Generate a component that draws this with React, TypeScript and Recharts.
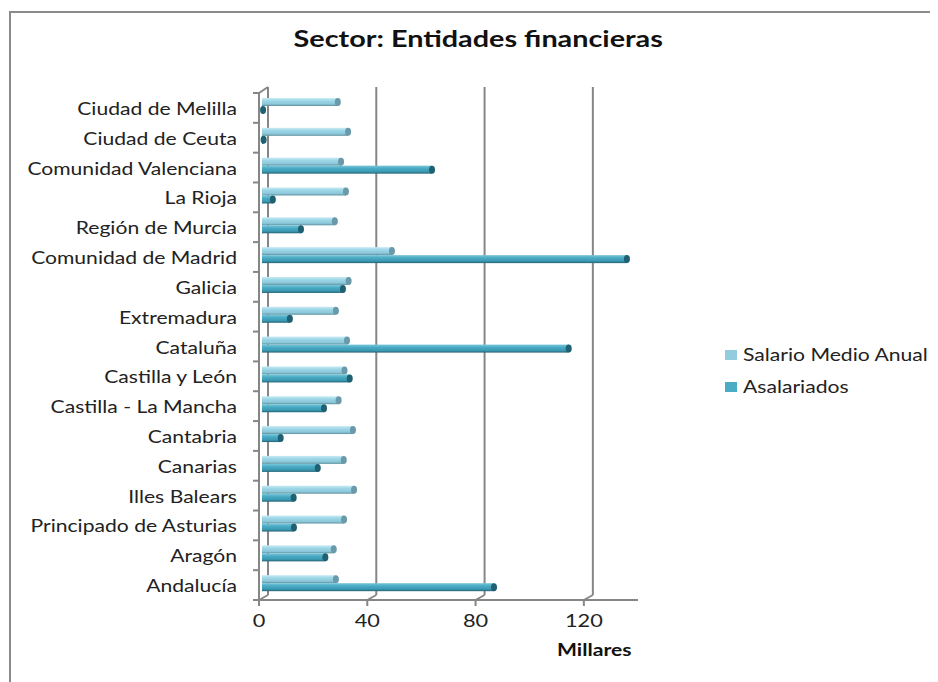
import React from "react";
import { BarChart, Bar, XAxis, YAxis, CartesianGrid, Legend } from "recharts";

const categories = [
  "Ciudad de Melilla",
  "Ciudad de Ceuta",
  "Comunidad Valenciana",
  "La Rioja",
  "Región de Murcia",
  "Comunidad de Madrid",
  "Galicia",
  "Extremadura",
  "Cataluña",
  "Castilla y León",
  "Castilla - La Mancha",
  "Cantabria",
  "Canarias",
  "Illes Balears",
  "Principado de Asturias",
  "Aragón",
  "Andalucía",
];
// thousands
const salarioMedio = [28.0, 31.8, 29.2, 31.0, 26.9, 48.0, 32.0, 27.3, 31.4, 30.5, 28.3, 33.6, 30.2, 34.0, 30.3, 26.5, 27.3];
const asalariados = [0.4, 0.6, 62.8, 4.0, 14.4, 134.8, 29.9, 10.3, 113.3, 32.4, 22.9, 6.9, 20.6, 11.7, 11.8, 23.4, 85.7];
const xTicks = [0, 40, 80, 120];
const legendOrder = ["Salario Medio Anual", "Asalariados"];

const data = categories.map((name, i) => ({ name, salario: salarioMedio[i], asalariados: asalariados[i] }));

const W = 930;
const H = 674;
const MARGIN = { top: 85, right: 300, bottom: 52, left: 11 };
const PLOT_H = H - MARGIN.top - MARGIN.bottom - 30;
const PLOT_RIGHT = W - MARGIN.right;
const BAND = PLOT_H / categories.length;
const FONT = "Lato, 'Open Sans', sans-serif";
const SX = 1.28; // the source picture is stretched sideways
const AXIS = "#868686";
const DEPTH_X = 9;
const DEPTH_Y = 6;

const TONES = {
  light: { grad: "cylLight", cap: "#6a9aaa" },
  dark: { grad: "cylDark", cap: "#1f6072" },
};

function Cylinder(props: any) {
  const { x, y, width, height, tone } = props;
  const t = TONES[tone as "light" | "dark"];
  const x0 = x + 3;
  const y0 = y - 2;
  const w = Math.max(width, 0);
  return (
    <g>
      <rect x={x0} y={y0} width={w} height={height} fill={`url(#${t.grad})`} />
      <ellipse cx={x0 + w} cy={y0 + height / 2} rx={3} ry={height / 2} fill={t.cap} />
    </g>
  );
}

function gridLine(p: any) {
  const { x1, y1, y2, index, key } = p;
  if (x1 > PLOT_RIGHT - 1) return <g key={key ?? index} />;
  const bx = x1 + DEPTH_X;
  return (
    <g key={key ?? index}>
      <line x1={bx} x2={bx} y1={y1 - DEPTH_Y} y2={y2 - DEPTH_Y + 1} stroke={AXIS} strokeWidth={2} />
      <line x1={bx} x2={x1} y1={y2 - DEPTH_Y + 1} y2={y2} stroke={AXIS} strokeWidth={2} />
      {index === 0 && <line x1={x1} x2={bx} y1={y1} y2={y1 - DEPTH_Y} stroke={AXIS} strokeWidth={2} />}
    </g>
  );
}

function CategoryTick(props: any) {
  const { x, y, payload, index } = props;
  const last = index === categories.length - 1;
  return (
    <g>
      <line x1={x - 6} x2={x} y1={y - BAND / 2} y2={y - BAND / 2} stroke={AXIS} strokeWidth={2} />
      {last && <line x1={x - 6} x2={x} y1={y + BAND / 2} y2={y + BAND / 2} stroke={AXIS} strokeWidth={2} />}
      <text
        transform={`translate(${x - 22},${y + 7}) scale(${SX},1)`}
        textAnchor="end"
        fontFamily={FONT}
        fontSize={16.5}
        fill="#222"
      >
        {payload.value}
      </text>
    </g>
  );
}

function ValueTick(props: any) {
  const { x, y, payload } = props;
  return (
    <text
      transform={`translate(${x},${y + 19}) scale(${SX},1)`}
      textAnchor="middle"
      fontFamily={FONT}
      fontSize={17}
      fill="#222"
    >
      {payload.value}
    </text>
  );
}

function LegendBox(props: any) {
  const items = [...(props.payload || [])].sort(
    (a: any, b: any) => legendOrder.indexOf(a.value) - legendOrder.indexOf(b.value)
  );
  return (
    <div style={{ fontFamily: FONT }}>
      {items.map((it: any, i: number) => (
        <div key={i} style={{ display: "flex", alignItems: "center", height: 32 }}>
          <span style={{ width: 12, height: 10, background: it.color, display: "inline-block", marginRight: 6 }} />
          <span
            style={{
              fontSize: 16.5,
              color: "#222",
              display: "inline-block",
              transform: `scaleX(${SX})`,
              transformOrigin: "left center",
              whiteSpace: "nowrap",
            }}
          >
            {it.value}
          </span>
        </div>
      ))}
    </div>
  );
}

export default function App() {
  return (
    <div style={{ position: "relative", width: W, height: H, overflow: "hidden", background: "#fff" }}>
      <svg width={0} height={0} style={{ position: "absolute" }}>
        <defs>
          <linearGradient id="cylLight" x1="0" y1="0" x2="0" y2="1">
            <stop offset="0%" stopColor="#c8ebf5" />
            <stop offset="35%" stopColor="#9dd6e7" />
            <stop offset="75%" stopColor="#8bc8da" />
            <stop offset="100%" stopColor="#5f8f9d" />
          </linearGradient>
          <linearGradient id="cylDark" x1="0" y1="0" x2="0" y2="1">
            <stop offset="0%" stopColor="#78c7da" />
            <stop offset="35%" stopColor="#4aabc4" />
            <stop offset="75%" stopColor="#3b98b1" />
            <stop offset="100%" stopColor="#226174" />
          </linearGradient>
        </defs>
      </svg>
      <div
        style={{
          position: "absolute",
          left: 1,
          top: 3,
          width: 2000,
          height: 2000,
          borderLeft: `2px solid #8a8a8a`,
          borderTop: `2px solid #8a8a8a`,
        }}
      />
      <div
        style={{
          position: "absolute",
          left: 0,
          width: 940,
          top: 17,
          textAlign: "center",
          fontFamily: FONT,
          fontWeight: 700,
          fontSize: 22.5,
          lineHeight: "28px",
          color: "#111",
        }}
      >
        <span style={{ display: "inline-block", transform: `scaleX(${SX})` }}>Sector: Entidades financieras</span>
      </div>
      <div
        style={{
          position: "absolute",
          left: 549,
          top: 632,
          fontFamily: FONT,
          fontWeight: 700,
          fontSize: 16.5,
          color: "#111",
          transform: `scaleX(${SX})`,
          transformOrigin: "left center",
        }}
      >
        Millares
      </div>
      <div style={{ position: "absolute", left: 0, top: 0 }}>
        <BarChart width={W} height={H} data={data} layout="vertical" margin={MARGIN} barSize={8} barGap={0}>
          <CartesianGrid horizontal={false} vertical={gridLine} />
          <XAxis
            type="number"
            domain={[0, 140]}
            ticks={xTicks}
            height={30}
            axisLine={{ stroke: AXIS, strokeWidth: 2 }}
            tickLine={{ stroke: AXIS, strokeWidth: 2 }}
            tickSize={6}
            tickMargin={2}
            tick={<ValueTick />}
          />
          <YAxis
            type="category"
            dataKey="name"
            width={240}
            axisLine={{ stroke: AXIS, strokeWidth: 2 }}
            tickLine={false}
            tickSize={0}
            tickMargin={0}
            interval={0}
            tick={<CategoryTick />}
          />
          <Legend
            layout="horizontal"
            align="center"
            verticalAlign="middle"
            content={<LegendBox />}
            wrapperStyle={{ left: 717, top: 331, width: 220 }}
          />
          <Bar
            dataKey="salario"
            name="Salario Medio Anual"
            fill="#93cddd"
            isAnimationActive={false}
            shape={(p: any) => <Cylinder {...p} tone="light" />}
          />
          <Bar
            dataKey="asalariados"
            name="Asalariados"
            fill="#4bacc6"
            isAnimationActive={false}
            shape={(p: any) => <Cylinder {...p} tone="dark" />}
          />
        </BarChart>
      </div>
    </div>
  );
}
